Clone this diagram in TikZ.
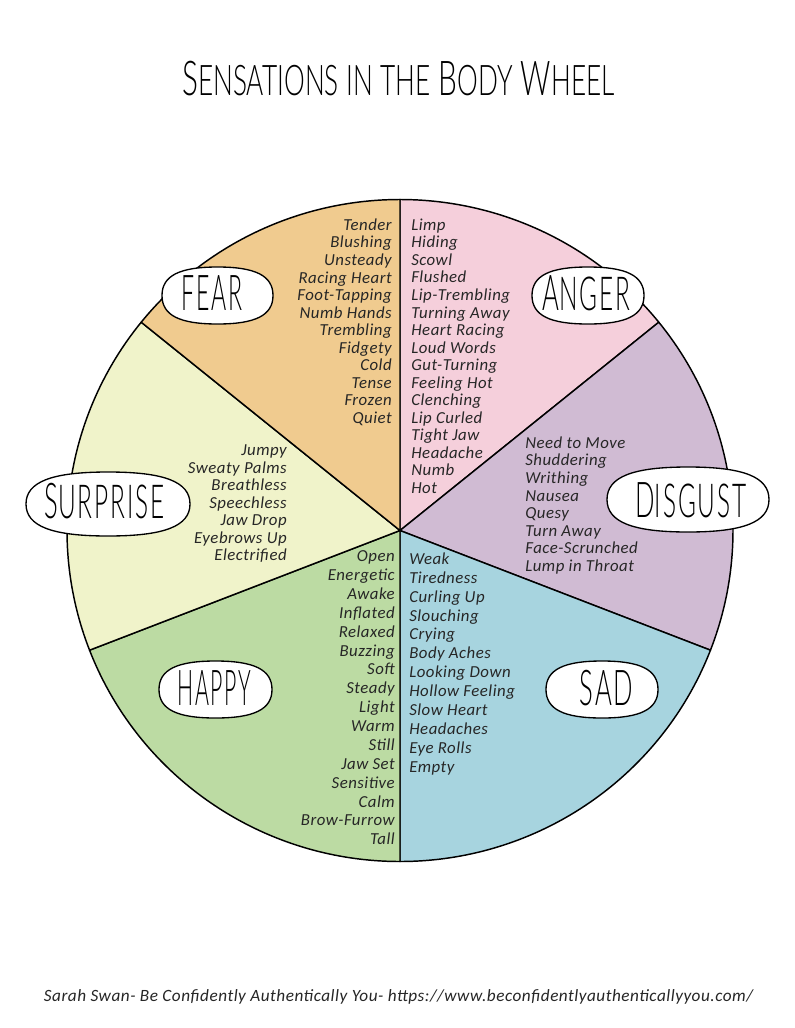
\documentclass[tikz,border=0pt]{standalone}
\usepackage{fontspec}
\setmainfont{Carlito}
\newfontfamily\capsfont[FakeStretch=0.62]{Lato Light}
\newfontfamily\ovalfont[FakeStretch=0.52,LetterSpace=4.0]{Lato Light}
\newfontfamily\listfont[ItalicFont=Carlito Italic,LetterSpace=3.0]{Carlito}
\newcommand{\capword}[2]{#1\scalebox{0.88}{#2}}
\newcommand{\ovalword}[2]{#1\scalebox{0.95}{#2}}
\newcommand{\ovalshape}[4]{\draw [ovalline] ({#1-#3}, #2)
  .. controls ({#1-#3}, {#2-0.7*#4}) and ({#1-0.68*#3}, {#2-#4}) .. (#1, {#2-#4})
  .. controls ({#1+0.68*#3}, {#2-#4}) and ({#1+#3}, {#2-0.7*#4}) .. ({#1+#3}, #2)
  .. controls ({#1+#3}, {#2+0.7*#4}) and ({#1+0.68*#3}, {#2+#4}) .. (#1, {#2+#4})
  .. controls ({#1-0.68*#3}, {#2+#4}) and ({#1-#3}, {#2+0.7*#4}) .. ({#1-#3}, #2) -- cycle;}
\definecolor{fearcol}{HTML}{F0CB8F}
\definecolor{angercol}{HTML}{F5CFDB}
\definecolor{disgustcol}{HTML}{D0BBD3}
\definecolor{sadcol}{HTML}{A7D4DF}
\definecolor{happycol}{HTML}{BCDBA3}
\definecolor{surprisecol}{HTML}{F0F3CA}
\tikzset{
  wedge/.style={draw=black, line width=1.1pt, line join=round},
  ovalline/.style={draw=black, fill=white, line width=1pt},
  ovaltext/.style={inner sep=0pt, font=\ovalfont\fontsize{37pt}{37pt}\selectfont},
  sensleft/.style={anchor=north west, align=left, inner sep=0pt, text=black!85, font=\listfont\itshape\fontsize{12.6pt}{13.16pt}\selectfont},
  sensright/.style={anchor=north east, align=right, inner sep=0pt, text=black!85, font=\listfont\itshape\fontsize{12.6pt}{13.16pt}\selectfont},
  widelist/.style={font=\listfont\itshape\fontsize{12.6pt}{14.16pt}\selectfont}
}
\begin{document}
\begin{tikzpicture}[x=0.75pt, y=-0.75pt]
      \useasboundingbox (0, 0) rectangle (794, 1028);
      \fill [white] (0, 0) rectangle (794, 1028);

      \coordinate (hub) at (400, 530.5);

      % wedges, angles from the hub
      \foreach \from/\to/\col in {90/39/angercol, 39/-21.2/disgustcol, -21.2/-90/sadcol, -90/-158.8/happycol, -158.8/-219/surprisecol, -219/-270/fearcol}
        \draw [wedge, fill=\col] (hub) -- ++(\from:249.75pt and 248.25pt) arc (\from:\to:249.75pt and 248.25pt) -- cycle;

      \node (title) [font=\capsfont\fontsize{36pt}{36pt}\selectfont] at (398.5, 79) {\capword{S}{ENSATIONS} \capword{}{IN THE} \capword{B}{ODY} \capword{W}{HEEL}};

      \node (fearlist) [sensright] at (392, 218.5) {Tender\\Blushing\\Unsteady\\Racing Heart\\Foot-Tapping\\Numb Hands\\Trembling\\Fidgety\\Cold\\Tense\\Frozen\\Quiet};
      \node (angerlist) [sensleft] at (411, 218.5) {Limp\\Hiding\\Scowl\\Flushed\\Lip-Trembling\\Turning Away\\Heart Racing\\Loud Words\\Gut-Turning\\Feeling Hot\\Clenching\\Lip Curled\\Tight Jaw\\Headache\\Numb\\Hot};
      \node (disgustlist) [sensleft] at (525, 436.5) {Need to Move\\Shuddering\\Writhing\\Nausea\\Quesy\\Turn Away\\Face-Scrunched\\Lump in Throat};
      \node (surpriselist) [sensright] at (287, 444.5) {Jumpy\\Sweaty Palms\\Breathless\\Speechless\\Jaw Drop\\Eyebrows Up\\Electrified};
      \node (happylist) [sensright, widelist] at (395, 550.5) {Open\\Energetic\\Awake\\Inflated\\Relaxed\\Buzzing\\Soft\\Steady\\Light\\Warm\\Still\\Jaw Set\\Sensitive\\Calm\\Brow-Furrow\\Tall};
      \node (sadlist) [sensleft, widelist] at (409, 552.5) {Weak\\Tiredness\\Curling Up\\Slouching\\Crying\\Body Aches\\Looking Down\\Hollow Feeling\\Slow Heart\\Headaches\\Eye Rolls\\Empty};

      \ovalshape{217.5}{295.5}{55.5}{28.5}
      \node (fear) [ovaltext] at (212, 293.5) {\scalebox{0.9}[1]{FEAR}};
      \ovalshape{588}{295.5}{56}{28.5}
      \node (anger) [ovaltext] at (586.5, 293.5) {\ovalword{A}{NGER}};
      \ovalshape{688}{499.5}{81}{32.5}
      \node (disgust) [ovaltext] at (691, 500) {\ovalword{D}{ISGUST}};
      \ovalshape{108}{504}{82}{32}
      \node (surprise) [ovaltext] at (104.5, 501.5) {\ovalword{S}{URPRISE}};
      \ovalshape{215.5}{689.5}{56.5}{28.5}
      \node (happy) [ovaltext] at (214.5, 688) {\scalebox{0.83}[1]{HAPPY}};
      \ovalshape{602}{689.5}{56}{28.5}
      \node (sad) [ovaltext] at (606.5, 688) {SAD};

      \node (credit) [text=black!85, font=\listfont\itshape\fontsize{12.9pt}{12.9pt}\selectfont] at (398.5, 997) {Sarah Swan- Be Confidently Authentically You- https://www.beconfidentlyauthenticallyyou.com/};
    \end{tikzpicture}
\end{document}
